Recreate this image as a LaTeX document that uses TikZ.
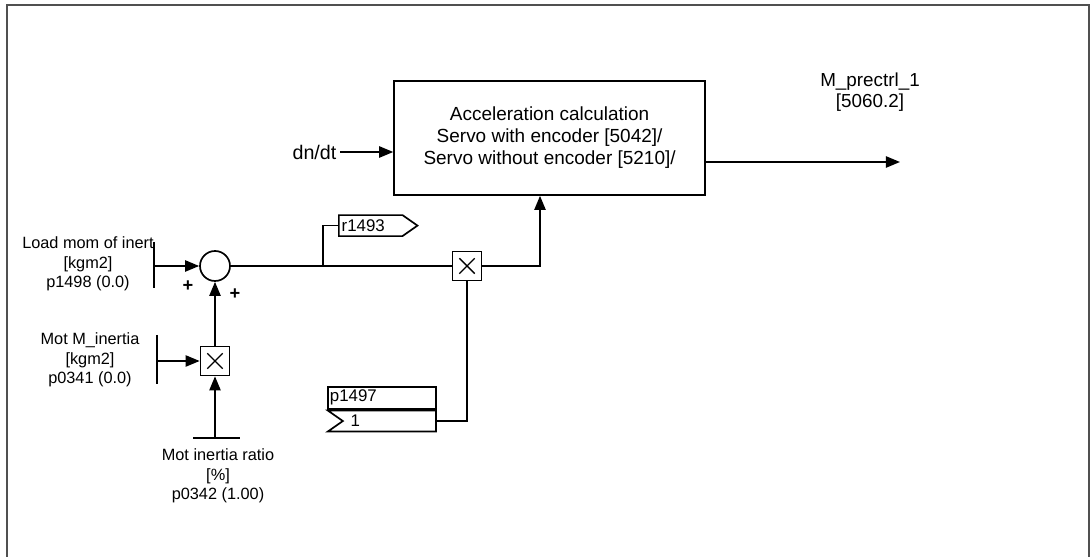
\documentclass[tikz,border=0pt]{standalone}
\usepackage{fontspec}
\setmainfont{Liberation Sans}
\definecolor{FrameGrey}{RGB}{80, 80, 80}
\usetikzlibrary{arrows.meta, positioning, shapes.symbols, calc}

\begin{document}
\begin{tikzpicture}[
    line width=1.2pt,
    every node/.style={align=center, inner sep=2pt},
    arr/.style={-{Triangle[length=10pt, width=8pt]}},
    lbl/.style={font=\fontsize{11.6}{14}\selectfont},
    calcbox/.style={draw, rectangle, minimum width=7.775cm, minimum height=2.85cm, font=\fontsize{13.5}{15.6}\selectfont},
    summer/.style={draw, circle, minimum size=0.75cm, inner sep=0pt},
    mult/.style={draw, rectangle, minimum size=0.725cm, inner sep=0pt,
        path picture={\draw[line width=1pt] ($(path picture bounding box.south west)+(0.17,0.17)$) -- ($(path picture bounding box.north east)+(-0.17,-0.17)$)
            ($(path picture bounding box.north west)+(0.17,-0.17)$) -- ($(path picture bounding box.south east)+(-0.17,0.17)$);}},
    tagout/.style={draw, signal, signal to=east, signal pointer angle=70, text width=1.45cm, align=left, inner xsep=2pt, inner ysep=0pt, minimum height=0.525cm, font=\fontsize{12}{12}\selectfont},
    parbox/.style={draw, rectangle, text width=2.6cm, align=left, inner xsep=1.5pt, inner ysep=0pt, minimum height=0.55cm, font=\fontsize{12}{12}\selectfont},
    parval/.style={draw, signal, signal from=west, signal to=nowhere, signal pointer angle=70, text width=2.225cm, align=left, inner xsep=1.5pt, inner ysep=0pt, minimum height=0.525cm, font=\fontsize{12}{12}\selectfont},
    plus/.style={font=\fontsize{13}{13}\selectfont\bfseries, inner sep=0pt}
]
\useasboundingbox (0,0) rectangle (27.275,-13.925);
\draw[FrameGrey, line width=1pt] (0.175,-13.925) -- (0.175,-0.125) -- (27.225,-0.125) -- (27.225,-13.925);

\node[calcbox] (calc) at (13.74,-3.45) {Acceleration calculation\\Servo with encoder [5042]/\\Servo without encoder [5210]/};
\node[font=\fontsize{14}{14}\selectfont, anchor=east] (dndt) at (8.5,-3.8) {dn/dt};
\node[font=\fontsize{13.4}{14.9}\selectfont] (mprectrl) at (21.75,-2.31) {M\_prectrl\_1\\{[5060.2]}};
\coordinate (mout) at (22.5,-4.05);

\node[summer] (sum) at (5.375,-6.65) {};
\node[mult] (mul1) at (5.375,-9.025) {};
\node[mult] (mul2) at (11.675,-6.65) {};
\node[plus] (plsa) at (4.7,-7.15) {+};
\node[plus] (plsb) at (5.875,-7.35) {+};

\node[lbl] (ldlbl) at (2.2,-6.6) {Load mom of inert\\{[kgm2]}\\p1498 (0.0)};
\node[lbl] (mmlbl) at (2.25,-9.0) {Mot M\_inertia\\{[kgm2]}\\p0341 (0.0)};
\node[lbl] (mrlbl) at (5.45,-11.9) {Mot inertia ratio\\{[\%]}\\p0342 (1.00)};
\coordinate (ldin) at (3.85,-6.65);
\coordinate (mmin) at (3.925,-9.025);
\coordinate (mrin) at (5.375,-10.95);
\coordinate (jr) at (8.075,-6.65);

\node[tagout, anchor=west] (r1493) at (8.45,-5.64) {r1493};
\node[parbox, anchor=north west] (p1497) at (8.175,-9.65) {p1497};
\node[parval, anchor=north east] (p1val) at (p1497.south east) {\hspace{4pt}1};

\draw (ldin) ++(0,0.6) -- ++(0,-1.15);
\draw ($(mmin)+(0,0.65)$) -- ($(mmin)+(0,-0.575)$);
\draw ($(mrin)+(-0.55,0)$) -- ($(mrin)+(0.625,0)$);

\draw[arr] (dndt.east) -- (dndt.east -| calc.west);
\draw[arr] (calc.east |- mout) -- (mout);
\draw[arr] (ldin) -- (sum.west);
\draw[arr] (mmin) -- (mul1.west);
\draw[arr] (mrin) -- (mul1.south);
\draw[arr] (mul1.north) -- (sum.south);
\draw (sum.east) -- (mul2.west);
\draw (jr) |- (r1493.west);
\draw[arr] (mul2.east) -| ([xshift=-0.24cm]calc.south);
\draw (mul2.south) |- (p1val.east);
\end{tikzpicture}
\end{document}
